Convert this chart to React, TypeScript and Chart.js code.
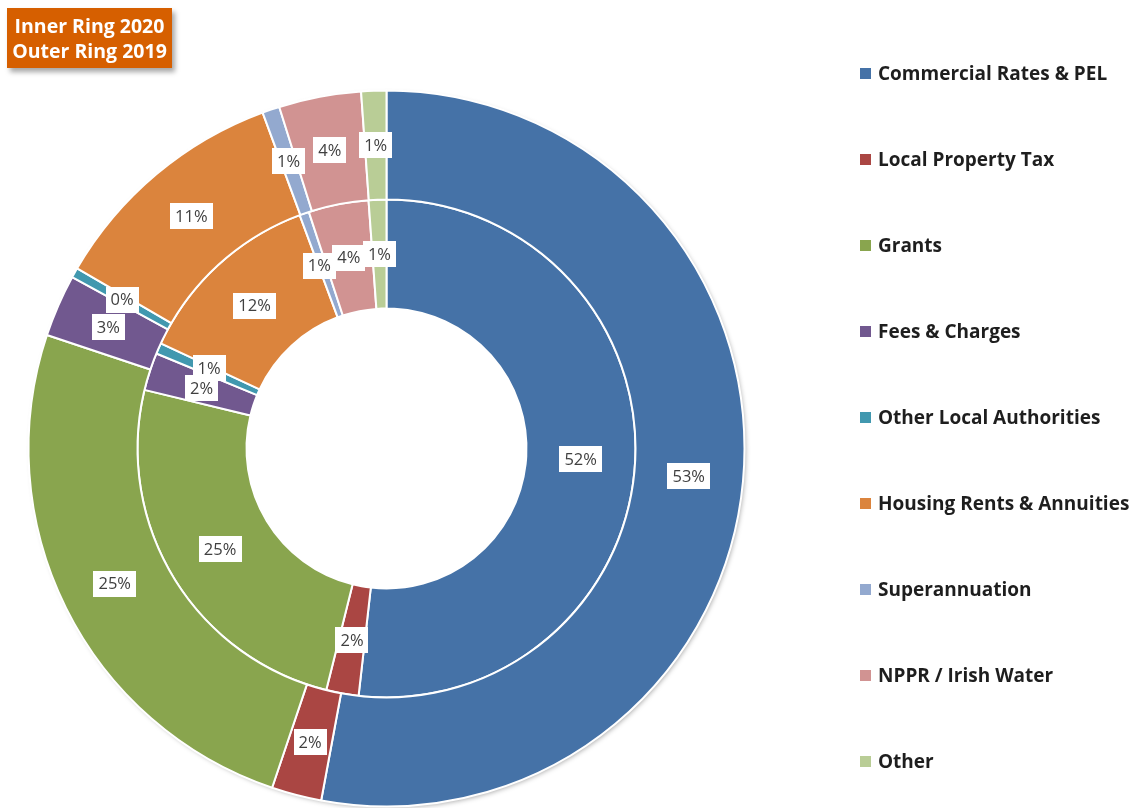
import React, { useEffect, useRef } from "react";
import { Chart, registerables } from "chart.js";

Chart.register(...registerables);

const categories = [
  "Commercial Rates & PEL",
  "Local Property Tax",
  "Grants",
  "Fees & Charges",
  "Other Local Authorities",
  "Housing Rents & Annuities",
  "Superannuation",
  "NPPR / Irish Water",
  "Other",
];

// Outer ring = 2019, inner ring = 2020 (shares in %)
const share2019 = [52.8, 2.25, 24.9, 2.8, 0.45, 10.96, 0.78, 3.7, 1.13];
const share2020 = [51.8, 2.1, 24.9, 2.45, 0.7, 12.4, 0.62, 3.9, 1.15];

const colors = [
  "#4572A7",
  "#AA4643",
  "#89A54E",
  "#71588F",
  "#4198AF",
  "#DB843D",
  "#93A9CF",
  "#D19392",
  "#B9CD96",
];

const LABEL_FONT = "16.5px 'Open Sans'";
const BOX_PAD = 10;
const BOX_H = 26;
const TEXT_H = 13;

const ringShadowPlugin = {
  id: "ringShadow",
  beforeDatasetsDraw(chart: any) {
    const meta = chart.getDatasetMeta(0);
    const arc = meta.data[0];
    if (!arc) return;
    const { x, y, outerRadius } = arc.getProps(["x", "y", "outerRadius"], true);
    const ctx = chart.ctx;
    ctx.save();
    ctx.shadowColor = "rgba(0,0,0,0.35)";
    ctx.shadowBlur = 5;
    ctx.shadowOffsetX = 2;
    ctx.shadowOffsetY = 2;
    ctx.fillStyle = "#ffffff";
    ctx.beginPath();
    ctx.arc(x, y, outerRadius - 1, 0, Math.PI * 2);
    ctx.fill();
    ctx.restore();
  },
};

function intersects(a: any, b: any) {
  return a.l < b.r && a.r > b.l && a.t < b.b && a.b > b.t;
}

const pctLabelPlugin = {
  id: "pctLabels",
  afterDatasetsDraw(chart: any) {
    const ctx = chart.ctx;
    ctx.save();
    ctx.font = LABEL_FONT;
    ctx.textAlign = "center";
    ctx.textBaseline = "middle";
    chart.data.datasets.forEach((ds: any, di: number) => {
      const meta = chart.getDatasetMeta(di);
      const total = ds.data.reduce((a: number, b: number) => a + b, 0);
      const items = meta.data.map((arc: any, i: number) => {
        const p = arc.tooltipPosition();
        const txt = Math.round((ds.data[i] / total) * 100) + "%";
        const tw = ctx.measureText(txt).width;
        return { x: p.x, y: p.y, value: ds.data[i], txt, tw, w: tw + BOX_PAD };
      });
      const boxRect = (it: any) => ({
        l: it.x - it.w / 2,
        r: it.x + it.w / 2,
        t: it.y - BOX_H / 2,
        b: it.y + BOX_H / 2,
      });
      const textRect = (it: any) => ({
        l: it.x - it.tw / 2 - 1,
        r: it.x + it.tw / 2 + 1,
        t: it.y - TEXT_H / 2,
        b: it.y + TEXT_H / 2,
      });
      // place larger slices first; nudge smaller labels so their text stays readable
      const byDesc = [...items].sort((a: any, b: any) => b.value - a.value);
      const placed: any[] = [];
      byDesc.forEach((it: any) => {
        for (const other of placed) {
          let dx = it.x - other.x;
          let dy = it.y - other.y;
          const len = Math.hypot(dx, dy) || 1;
          dx /= len;
          dy /= len;
          let guard = 0;
          while (intersects(textRect(it), boxRect(other)) && guard < 40) {
            it.x += dx * 0.5;
            it.y += dy * 0.5;
            guard++;
          }
        }
        placed.push(it);
      });
      // draw smaller first so larger slices' labels sit on top
      const byAsc = [...items].sort((a: any, b: any) => a.value - b.value);
      byAsc.forEach((it: any) => {
        ctx.fillStyle = "#ffffff";
        ctx.fillRect(Math.round(it.x - it.w / 2), Math.round(it.y - BOX_H / 2), Math.round(it.w), BOX_H);
        ctx.fillStyle = "#404040";
        ctx.fillText(it.txt, it.x, it.y + 1);
      });
    });
    ctx.restore();
  },
};

export default function App() {
  const canvasRef = useRef<HTMLCanvasElement | null>(null);

  useEffect(() => {
    if (!canvasRef.current) return;
    const chart = new Chart(canvasRef.current, {
      type: "doughnut",
      data: {
        labels: categories,
        datasets: [
          {
            label: "2019",
            data: share2019,
            backgroundColor: colors,
            borderColor: "#ffffff",
            borderWidth: 2,
          },
          {
            label: "2020",
            data: share2020,
            backgroundColor: colors,
            borderColor: "#ffffff",
            borderWidth: 2,
          },
        ],
      },
      options: {
        animation: false,
        responsive: false,
        maintainAspectRatio: false,
        cutout: "39.1%",
        layout: {
          padding: { top: 89.5, bottom: 0.5, left: 27.5, right: 388.5 },
        },
        plugins: {
          legend: { display: false },
          tooltip: { enabled: false },
          title: { display: false },
        },
      },
      plugins: [ringShadowPlugin, pctLabelPlugin],
    });
    return () => chart.destroy();
  }, []);

  return (
    <div
      style={{
        position: "absolute",
        left: 0,
        top: 0,
        width: 1134,
        height: 808,
        background: "#ffffff",
        overflow: "hidden",
        fontFamily: "'Open Sans', sans-serif",
      }}
    >
      <canvas
        ref={canvasRef}
        width={1134}
        height={808}
        style={{ position: "absolute", left: 0, top: 0, width: 1134, height: 808 }}
      />
      <div
        style={{
          position: "absolute",
          left: 7,
          top: 8,
          width: 165,
          height: 60,
          background: "#D65F00",
          boxShadow: "3px 4px 5px rgba(0,0,0,0.35)",
          color: "#ffffff",
          fontWeight: 700,
          fontSize: 19.5,
          lineHeight: "25px",
          textAlign: "center",
          boxSizing: "border-box",
          paddingTop: 5,
          whiteSpace: "nowrap",
        }}
      >
        <div>Inner Ring 2020</div>
        <div>Outer Ring 2019</div>
      </div>
      <div style={{ position: "absolute", left: 860, top: 73 - 43 }}>
        {categories.map((c, i) => (
          <div
            key={c}
            style={{ height: 86, display: "flex", alignItems: "center", whiteSpace: "nowrap" }}
          >
            <span
              style={{
                display: "inline-block",
                width: 11,
                height: 11,
                background: colors[i],
                marginRight: 7,
              }}
            />
            <span style={{ fontWeight: 700, fontSize: 19, color: "#1e1e1e" }}>{c}</span>
          </div>
        ))}
      </div>
    </div>
  );
}
